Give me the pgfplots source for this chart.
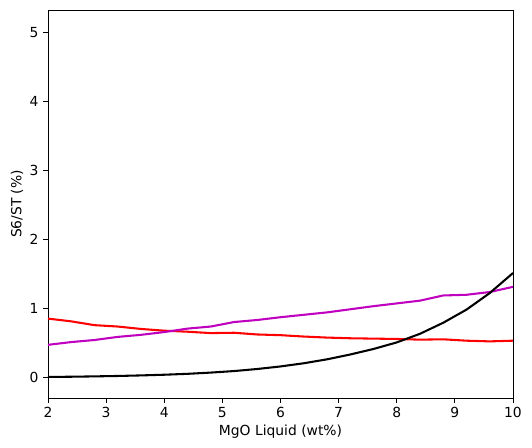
\documentclass[border=0pt]{standalone}
\usepackage{pgfplots}
\pgfplotsset{compat=1.18}
\usepackage{fontspec}
\setmainfont{DejaVu Sans}
\definecolor{mplred}{rgb}{1,0,0}
\definecolor{mplmag}{rgb}{0.75,0,0.75}
\begin{document}
\begin{tikzpicture}[x=1pt,y=1pt]
\begin{axis}[
  scale only axis,
  width=348.75pt, height=291pt,
  at={(0,0)}, anchor=south west,
  xmin=2, xmax=10, ymin=-0.30, ymax=5.32,
  xtick={2,3,...,10}, ytick={0,1,...,5},
  tick align=outside, tick pos=left,
  major tick length=3.6pt,
  tick style={black, line width=0.6pt},
  axis line style={line width=0.6pt},
  /pgf/number format/assume math mode=true,
  tick label style={font=\fontsize{10.4}{12.5}\selectfont},
  label style={font=\fontsize{10.4}{12.5}\selectfont},
  xlabel={MgO Liquid (wt\%)},
  ylabel={S6/ST (\%)},
  xlabel style={yshift=2pt},
  ylabel style={yshift=-2pt},
  every axis plot/.append style={line width=1.55pt, no marks},
]
% sulfate fraction, red run
\addplot[mplred] coordinates {
(2.0,0.85) (2.4,0.81) (2.8,0.755) (3.2,0.735) (3.6,0.70) (4.0,0.675)
(4.4,0.66) (4.8,0.64) (5.2,0.645) (5.6,0.62) (6.0,0.61) (6.4,0.59)
(6.8,0.575) (7.2,0.565) (7.6,0.56) (8.0,0.555) (8.4,0.545) (8.8,0.55)
(9.2,0.53) (9.6,0.52) (10.0,0.53)};
% magenta run
\addplot[mplmag] coordinates {
(2.0,0.47) (2.4,0.51) (2.8,0.54) (3.2,0.585) (3.6,0.615) (4.0,0.655)
(4.4,0.705) (4.8,0.735) (5.2,0.80) (5.6,0.83) (6.0,0.87) (6.4,0.905)
(6.8,0.94) (7.2,0.985) (7.6,1.03) (8.0,1.07) (8.4,1.11) (8.8,1.185)
(9.2,1.195) (9.6,1.235) (10.0,1.31)};
% black run
\addplot[black] coordinates {
(2.0,0.005) (2.4,0.008) (2.8,0.013) (3.2,0.019) (3.6,0.027) (4.0,0.037)
(4.4,0.050) (4.8,0.068) (5.2,0.090) (5.6,0.120) (6.0,0.157) (6.4,0.203)
(6.8,0.260) (7.2,0.330) (7.6,0.410) (8.0,0.505) (8.4,0.630) (8.8,0.790)
(9.2,0.980) (9.6,1.220) (10.0,1.510)};
\end{axis}
\path[use as bounding box] (-36pt,-37.5pt) rectangle (363pt,298.5pt);
\end{tikzpicture}
\end{document}
